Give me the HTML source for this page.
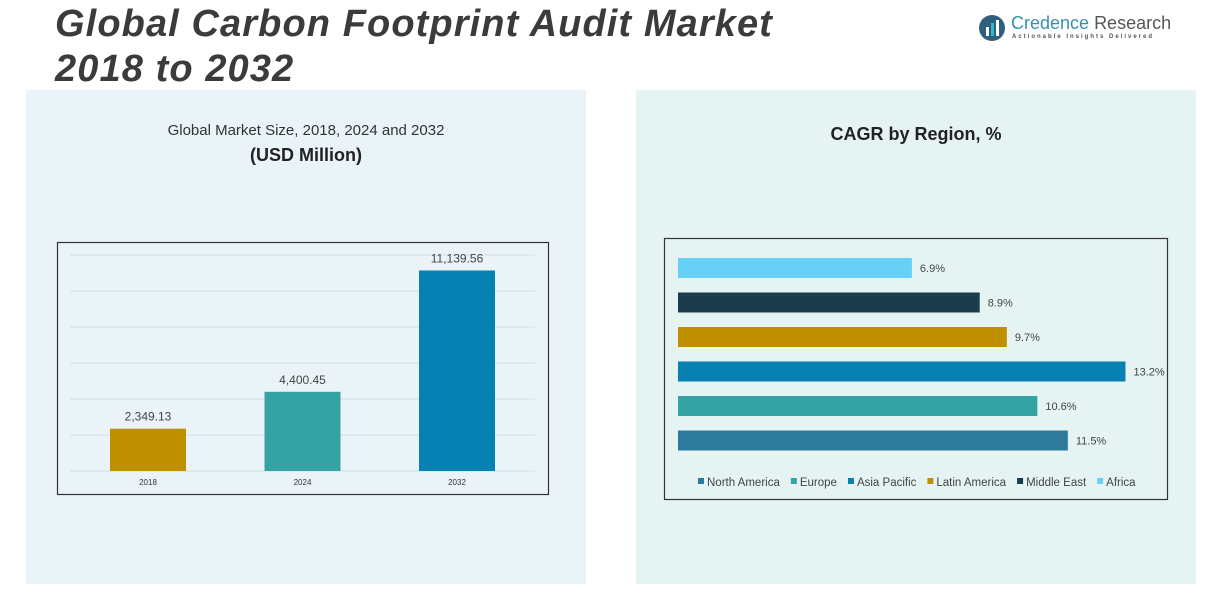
<!DOCTYPE html>
<html><head><meta charset="utf-8"><style>
body{margin:0;width:1220px;height:605px;background:#fff;font-family:"Liberation Sans",sans-serif;position:relative;overflow:hidden}
.abs{position:absolute}
</style></head><body>
<div class="abs" style="left:26px;top:90px;width:560px;height:494px;background:#eaf3f8"></div>
<div class="abs" style="left:636px;top:90px;width:560px;height:494px;background:#e5f3f3"></div>
<div class="abs" style="left:55px;top:2px;font-size:38px;letter-spacing:1.1px;font-weight:bold;font-style:italic;color:#3b3b3b;line-height:45px">Global Carbon Footprint Audit Market<br>2018 to 2032</div>
<div class="abs" style="left:978px;top:12px;width:190px;height:32px">
<svg width="28" height="28" style="position:absolute;left:0;top:2px"><circle cx="14" cy="14" r="13" fill="#2f5f7f"/><rect x="8" y="13" width="3" height="9" fill="#fff"/><rect x="13" y="9" width="3" height="13" fill="#37b5c8"/><rect x="18" y="6" width="3" height="16" fill="#fff"/></svg>
<div class="abs" style="left:33px;top:1px;font-size:18px;color:#3a8fb0;white-space:nowrap">Credence <span style="color:#555">Research</span></div>
<div class="abs" style="left:34px;top:22px;font-size:6px;letter-spacing:2px;color:#555;white-space:nowrap;font-weight:bold">Actionable Insights Delivered</div>
</div>
<div class="abs" style="left:26px;width:560px;top:122px;text-align:center;font-size:15px;color:#333">Global Market Size, 2018, 2024 and 2032</div>
<div class="abs" style="left:26px;width:560px;top:145px;text-align:center;font-size:18px;font-weight:bold;color:#222">(USD Million)</div>
<div class="abs" style="left:636px;width:560px;top:124px;text-align:center;font-size:18px;font-weight:bold;color:#222">CAGR by Region, %</div>
<svg class="abs" style="left:0;top:0" width="1220" height="605" id="svg"></svg>
<script>
const years=["2018","2024","2032"];
const sizes=[2349.13,4400.45,11139.56];
const sizeLabels=["2,349.13","4,400.45","11,139.56"];
const sizeColors=["#c08f00","#35a3a3","#0681b2"];
const yTicks=[0,2000,4000,6000,8000,10000,12000];
const regions=["Africa","Middle East","Latin America","Asia Pacific","Europe","North America"];
const cagr=[6.9,8.9,9.7,13.2,10.6,11.5];
const regionColors=["#66d0f7","#1a3c4c","#c08f00","#0681b2","#35a3a3","#2d7b9c"];
const legendOrder=["North America","Europe","Asia Pacific","Latin America","Middle East","Africa"];
const legendColors=["#2d7b9c","#35a3a3","#0681b2","#c08f00","#1a3c4c","#66d0f7"];
const NS="http://www.w3.org/2000/svg",svg=document.getElementById('svg');
function mk(t,a,p){const e=document.createElementNS(NS,t);for(const k in a)e.setAttribute(k,a[k]);(p||svg).appendChild(e);return e;}
const lb=mk('rect',{x:57.5,y:242.5,width:491,height:252,fill:'none',stroke:'#333','stroke-width':1.2});


const y0=471,yMax=12000,yH=216;
const ys=v=>y0-v/yMax*yH;
yTicks.forEach(t=>{const g=mk('line',{x1:70,x2:535,y1:ys(t),y2:ys(t),stroke:'#d4dde2','stroke-width':1});

});
years.forEach((yr,i)=>{const cx=148+i*154.5;
const b=mk('rect',{x:cx-38,y:ys(sizes[i]),width:76,height:y0-ys(sizes[i]),fill:sizeColors[i]});


const l=mk('text',{x:cx,y:ys(sizes[i])-8,'text-anchor':'middle','font-size':12,fill:'#444'});l.textContent=sizeLabels[i];


const x=mk('text',{x:cx,y:485,'text-anchor':'middle','font-size':8,fill:'#333'});x.textContent=yr;

});
const rb=mk('rect',{x:664.5,y:238.5,width:503,height:261,fill:'none',stroke:'#333','stroke-width':1.2});


const x0=678,xs=v=>x0+v*33.9;
regions.forEach((r,i)=>{const cy=268+i*34.5;
const b=mk('rect',{x:x0,y:cy-10,width:xs(cagr[i])-x0,height:20,fill:regionColors[i]});


const t=mk('text',{x:xs(cagr[i])+8,y:cy+4,'font-size':11,fill:'#444'});t.textContent=cagr[i]+'%';

});
let lx=698;
legendOrder.forEach((n,i)=>{const sq=mk('rect',{x:lx,y:478,width:6,height:6,fill:legendColors[i]});


const t=mk('text',{x:lx+9,y:486,'font-size':11.5,fill:'#444'});t.textContent=n;


lx+=9+t.getComputedTextLength()+11;});
</script>
</body></html>
